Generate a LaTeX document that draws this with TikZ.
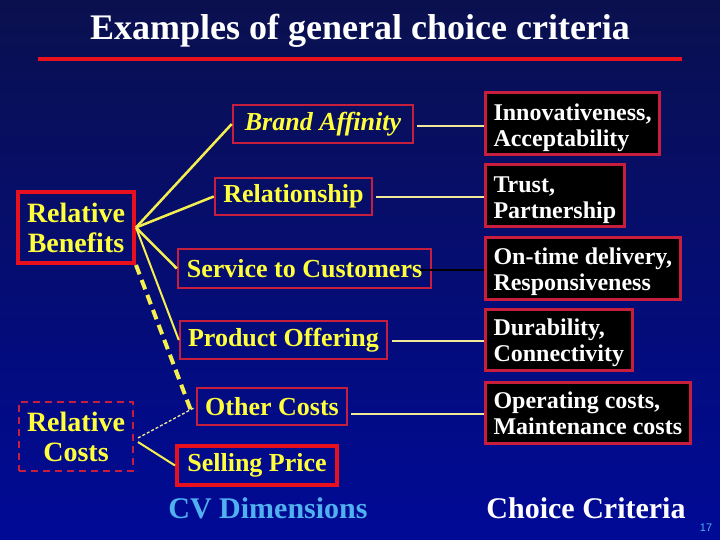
\documentclass[tikz,border=0pt]{standalone}
\usepackage{fontspec}
\setmainfont{Liberation Serif}
\newfontfamily\sansf{Liberation Sans}
\definecolor{bgtop}{RGB}{10,16,78}
\definecolor{bgbot}{RGB}{0,10,150}
\definecolor{txtyel}{RGB}{255,255,60}
\definecolor{lnyel}{RGB}{245,240,80}
\definecolor{paleyel}{RGB}{240,232,150}
\definecolor{crim}{RGB}{200,30,62}
\definecolor{brightred}{RGB}{232,16,28}
\definecolor{cvblue}{RGB}{80,176,240}
\newcommand{\crittext}[2]{\raisebox{-4pt}[\height][\depth]{\begin{tabular}{@{}l@{}}#1\\#2\end{tabular}}}
\begin{document}
\begin{tikzpicture}[x=1pt,y=-1pt,
  midbox/.style={draw=crim,line width=2.5pt,text=txtyel,font=\fontsize{26}{28}\selectfont\bfseries,inner sep=0pt},
  leftbox/.style={draw=brightred,line width=4pt,text=txtyel,align=center,inner sep=0pt,font=\fontsize{28}{30}\selectfont\bfseries},
  critbox/.style={draw=crim,line width=3pt,fill=black,text=white,anchor=west,inner xsep=8pt,inner ysep=0pt,minimum height=62pt,font=\fontsize{24}{26}\selectfont\bfseries},
  conn/.style={draw=lnyel,line width=2.5pt},
  rconn/.style={draw=paleyel,line width=2pt}]
\useasboundingbox (0,0) rectangle (720,540);
\fill[top color=bgtop,bottom color=bgbot] (0,0) rectangle (720,540);
% title
\node[text=white,font=\fontsize{36}{38}\selectfont\bfseries] (title) at (360,31) {Examples of general choice criteria};
\draw[brightred,line width=4pt] (38,59) -- (682,59);
% left boxes
\node[leftbox,minimum width=116pt,minimum height=71pt] (rb) at (76,227.5) {Relative\\Benefits};
\node[leftbox,draw=crim,line width=2pt,dash pattern=on 7pt off 5pt,minimum width=114pt,minimum height=69pt] (rc) at (76,436.5) {Relative\\Costs};
% middle boxes
\node[midbox,minimum width=180pt,minimum height=38pt,font=\fontsize{26}{28}\selectfont\bfseries\itshape] (brand) at (323,124) {Brand Affinity};
\node[midbox,minimum width=157pt,minimum height=37pt] (rel) at (293.5,196.5) {Relationship};
\node[midbox,minimum width=253pt,minimum height=39pt] (svc) at (304.5,268.5) {Service to Customers};
\node[midbox,minimum width=207pt,minimum height=38pt] (prod) at (283.5,340) {Product Offering};
\node[midbox,minimum width=150pt,minimum height=37pt] (oth) at (272,406.5) {Other Costs};
\node[midbox,draw=brightred,line width=4pt,minimum width=160pt,minimum height=39pt] (sell) at (257,465.5) {Selling Price};
% right boxes
\node[critbox] (innov) at (484,124) {\crittext{Innovativeness,}{Acceptability}};
\node[critbox] (trust) at (484,196) {\crittext{Trust,}{Partnership}};
\node[critbox] (ontime) at (484,268) {\crittext{On-time delivery,}{Responsiveness}};
\node[critbox,minimum height=61pt] (dur) at (484,339.5) {\crittext{Durability,}{Connectivity}};
\node[critbox,minimum height=61pt] (oper) at (484,412.5) {\crittext{Operating costs,}{Maintenance costs}};
% connectors from Relative Benefits
\draw[conn] (rb.east) -- (brand.west);
\draw[conn] (rb.east) -- (rel.west);
\draw[conn] (rb.east) -- (svc.west);
\draw[conn,line width=2pt] (rb.east) -- (prod.west);
\draw[conn,line width=4pt,dash pattern=on 10pt off 6pt] (rb.south east) -- ([xshift=-5pt,yshift=-3.5pt]oth.west);
% connectors from Relative Costs
\draw[draw=paleyel,line width=1.3pt,dash pattern=on 3pt off 2pt] ([xshift=4pt,yshift=-1.5pt]rc.east) -- ([xshift=-2pt,yshift=-1.5pt]oth.west);
\draw[conn,line width=2pt] ([xshift=4pt,yshift=-5.5pt]rc.east) -- (sell.west);
% connectors to criteria
\draw[rconn] ([xshift=3pt,yshift=-2pt]brand.east) -- ([yshift=-2pt]innov.west);
\draw[rconn] ([xshift=3pt,yshift=-0.5pt]rel.east) -- ([yshift=-1pt]trust.west);
\draw[draw=black,line width=2pt] ([xshift=-12pt,yshift=-1.5pt]svc.east) -- ([yshift=-2pt]ontime.west);
\draw[rconn] ([xshift=4pt,yshift=-1pt]prod.east) -- ([yshift=-1.5pt]dur.west);
\draw[rconn] ([xshift=3pt,yshift=-7.5pt]oth.east) -- ([yshift=-1.5pt]oper.west);
% bottom labels
\node[text=cvblue,font=\fontsize{30}{32}\selectfont\bfseries] (cv) at (268,508) {CV Dimensions};
\node[text=white,font=\fontsize{30}{32}\selectfont\bfseries] (cc) at (586,508) {Choice Criteria};
\node[text=cvblue,font=\sansf\fontsize{11}{12}\selectfont] (num) at (706,528) {17};
\end{tikzpicture}
\end{document}
